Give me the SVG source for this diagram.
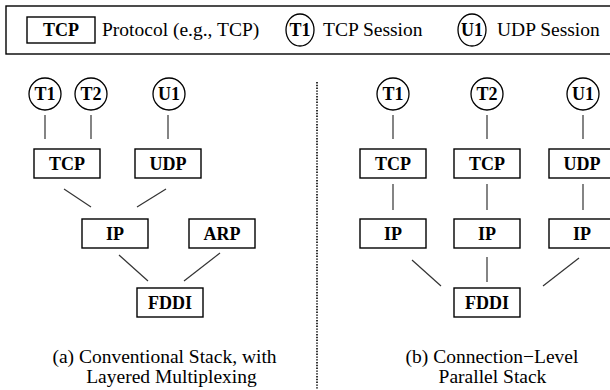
<svg xmlns="http://www.w3.org/2000/svg" width="610" height="390" viewBox="0 0 610 390">
<style>
.box{fill:#fff;stroke:#000;stroke-width:1.4}
.circ{fill:#fff;stroke:#000;stroke-width:1.3}
.lbl{font-size:18px;font-weight:bold;text-anchor:middle;fill:#000}
.txt{font-size:19.5px;fill:#000}
.cap{font-size:19.5px;fill:#000;text-anchor:middle}
.conn line{stroke:#333;stroke-width:1.2}
</style>
<rect width="610" height="390" fill="#fff"/>
<g font-family="Liberation Serif, DejaVu Serif, serif">
<g id="legend">
<rect x="6" y="6" width="620" height="48" fill="none" stroke="#000" stroke-width="1.4"/>
<rect class="box" x="27" y="17" width="68" height="26"/>
<text class="lbl" x="61" y="36">TCP</text>
<text class="txt" x="102" y="36">Protocol (e.g., TCP)</text>
<ellipse class="circ" cx="300" cy="30" rx="14" ry="16"/>
<text class="lbl" x="300" y="36">T1</text>
<text class="txt" x="323" y="36">TCP Session</text>
<ellipse class="circ" cx="472" cy="30" rx="14" ry="16"/>
<text class="lbl" x="472" y="36">U1</text>
<text class="txt" x="497" y="36">UDP Session</text>
</g>
<g id="separator">
<line x1="317" y1="82" x2="317" y2="390" stroke="#000" stroke-width="1.6" stroke-dasharray="1.4 1.4"/>
</g>
<g class="conn" id="connectors">
<line x1="45" y1="115" x2="45" y2="139"/>
<line x1="91" y1="115" x2="91" y2="139"/>
<line x1="168" y1="115" x2="168" y2="139"/>
<line x1="64" y1="189" x2="91" y2="207"/>
<line x1="166" y1="189" x2="137" y2="207"/>
<line x1="119" y1="255" x2="148" y2="281"/>
<line x1="220" y1="253" x2="184" y2="281"/>
<line x1="393" y1="115" x2="393" y2="139"/>
<line x1="487" y1="115" x2="487" y2="139"/>
<line x1="583" y1="115" x2="583" y2="139"/>
<line x1="393" y1="184" x2="393" y2="210"/>
<line x1="487" y1="184" x2="487" y2="210"/>
<line x1="583" y1="184" x2="583" y2="210"/>
<line x1="412" y1="260" x2="441" y2="286"/>
<line x1="487" y1="257" x2="487" y2="282"/>
<line x1="579" y1="258" x2="543" y2="286"/>
</g>
<g id="a-T1"><circle class="circ" cx="45" cy="94" r="16"/><text class="lbl" x="45" y="100">T1</text></g>
<g id="a-T2"><circle class="circ" cx="91" cy="94" r="16"/><text class="lbl" x="91" y="100">T2</text></g>
<g id="a-U1"><circle class="circ" cx="169" cy="94" r="16"/><text class="lbl" x="169" y="100">U1</text></g>
<g id="a-TCP"><rect class="box" x="34" y="149" width="66" height="29"/><text class="lbl" x="67" y="170">TCP</text></g>
<g id="a-UDP"><rect class="box" x="135" y="149" width="66" height="29"/><text class="lbl" x="168" y="170">UDP</text></g>
<g id="a-IP"><rect class="box" x="82" y="219" width="66" height="29"/><text class="lbl" x="115" y="240">IP</text></g>
<g id="a-ARP"><rect class="box" x="189" y="219" width="66" height="29"/><text class="lbl" x="222" y="240">ARP</text></g>
<g id="a-FDDI"><rect class="box" x="137" y="288" width="66" height="29"/><text class="lbl" x="170" y="309">FDDI</text></g>
<g id="a-caption">
<text class="cap" x="164.5" y="363">(a) Conventional Stack, with</text>
<text class="cap" x="171.5" y="383">Layered Multiplexing</text>
</g>
<g id="b-T1"><circle class="circ" cx="393" cy="94" r="16"/><text class="lbl" x="393" y="100">T1</text></g>
<g id="b-T2"><circle class="circ" cx="487" cy="94" r="16"/><text class="lbl" x="487" y="100">T2</text></g>
<g id="b-U1"><circle class="circ" cx="583" cy="94" r="16"/><text class="lbl" x="583" y="100">U1</text></g>
<g id="b-TCP1"><rect class="box" x="360" y="149" width="66" height="29"/><text class="lbl" x="393" y="170">TCP</text></g>
<g id="b-TCP2"><rect class="box" x="454" y="149" width="66" height="29"/><text class="lbl" x="487" y="170">TCP</text></g>
<g id="b-UDP"><rect class="box" x="549" y="149" width="66" height="29"/><text class="lbl" x="582" y="170">UDP</text></g>
<g id="b-IP1"><rect class="box" x="360" y="219" width="66" height="29"/><text class="lbl" x="393" y="240">IP</text></g>
<g id="b-IP2"><rect class="box" x="454" y="219" width="66" height="29"/><text class="lbl" x="487" y="240">IP</text></g>
<g id="b-IP3"><rect class="box" x="549" y="219" width="66" height="29"/><text class="lbl" x="582" y="240">IP</text></g>
<g id="b-FDDI"><rect class="box" x="454" y="288" width="66" height="29"/><text class="lbl" x="487" y="309">FDDI</text></g>
<g id="b-caption">
<text class="cap" x="492" y="363">(b) Connection−Level</text>
<text class="cap" x="492.5" y="383">Parallel Stack</text>
</g>
</g>
</svg>
